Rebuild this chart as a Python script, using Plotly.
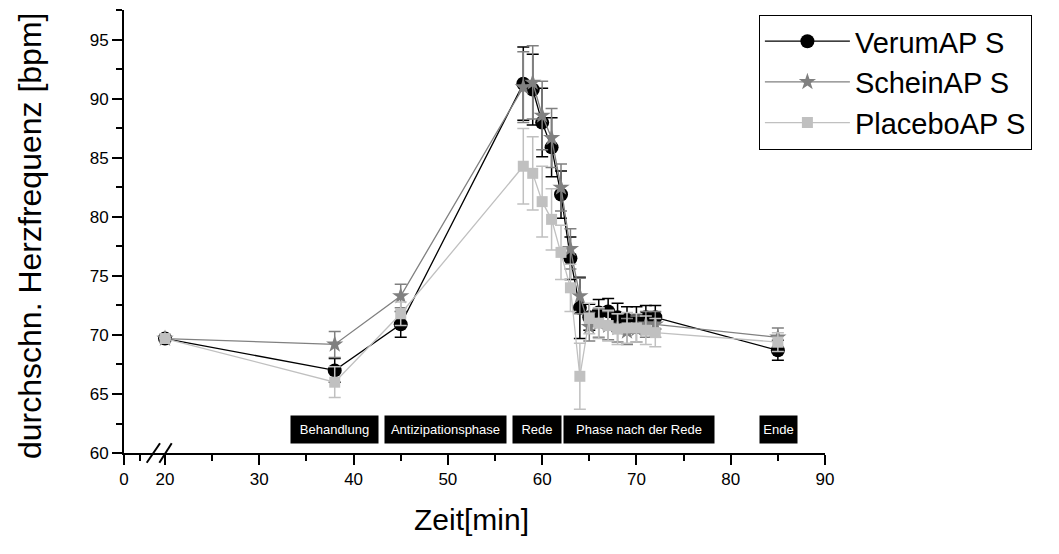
import plotly.graph_objects as go

# ---- data ----
zeit = [20, 38, 45, 58, 59, 60, 61, 62, 63, 64, 65, 66, 67, 68, 69, 70, 71, 72, 85]
verum = [69.7, 67.0, 70.9, 91.3, 90.8, 88.0, 85.9, 81.9, 76.5, 72.3, 71.5, 71.9, 72.0, 71.5, 71.3, 71.3, 71.5, 71.5, 68.7]
verum_err = [None, 1.0, 1.1, 3.1, 3.0, 2.9, 2.5, 2.0, 1.8, 2.6, 1.1, 1.1, 1.1, 1.2, 1.1, 1.1, 1.0, 1.0, 0.85]
schein = [69.7, 69.2, 73.3, 91.0, 91.4, 88.6, 86.7, 82.5, 77.3, 73.3, 70.7, 71.0, 70.8, 70.6, 70.3, 70.5, 70.9, 70.9, 69.8]
schein_err = [None, 1.1, 1.0, 3.0, 3.1, 2.9, 2.5, 2.0, 1.7, 1.5, 1.2, 1.2, 1.2, 1.2, 1.1, 1.1, 1.1, 1.1, 0.8]
placebo = [69.7, 66.0, 71.8, 84.3, 83.7, 81.3, 79.8, 77.0, 74.0, 66.5, 71.4, 71.0, 70.8, 70.5, 70.6, 70.6, 70.4, 70.2, 69.4]
placebo_err = [None, 1.3, 1.0, 3.2, 3.1, 3.0, 2.6, 2.3, 2.0, 2.8, 1.3, 1.3, 1.3, 1.3, 1.3, 1.2, 1.2, 1.2, 0.8]

series_names = ["VerumAP S", "ScheinAP S", "PlaceboAP S"]

phase_labels = ["Behandlung", "Antizipationsphase", "Rede", "Phase nach der Rede", "Ende"]
phase_centers = [38.0, 49.75, 59.45, 70.3, 85.05]
phase_widths = [87, 121, 48, 150, 37]

x_tickvals = [15.65, 20, 30, 40, 50, 60, 70, 80, 90]
x_ticktext = ["0", "20", "30", "40", "50", "60", "70", "80", "90"]
x_minor = [17.3, 25, 35, 45, 55, 65, 75, 85]
y_tickvals = [60, 65, 70, 75, 80, 85, 90, 95]
y_minor = [62.5, 67.5, 72.5, 77.5, 82.5, 87.5, 92.5, 97.5]

FONT = "Arial, Liberation Sans, sans-serif"

fig = go.Figure()

styles = [
    dict(color="#000000", symbol="circle", size=14),
    dict(color="#808080", symbol="star", size=13),
    dict(color="#c0c0c0", symbol="square", size=11),
]
ys = [verum, schein, placebo]
errs = [verum_err, schein_err, placebo_err]

for name, y, e, st in zip(series_names, ys, errs, styles):
    fig.add_trace(go.Scatter(
        x=zeit, y=y, name=name, mode="lines+markers",
        line=dict(color=st["color"], width=1.3),
        marker=dict(color=st["color"], symbol=st["symbol"], size=st["size"],
                    line=dict(width=0)),
        error_y=dict(type="data", array=e, visible=True, color=st["color"],
                     thickness=1.5, width=6),
    ))

for lab, cx, w in zip(phase_labels, phase_centers, phase_widths):
    fig.add_annotation(x=cx, y=62.0, xref="x", yref="y", text=lab,
                       showarrow=False, bgcolor="black", borderpad=0,
                       width=w, height=27,
                       font=dict(family=FONT, size=13, color="white"))

# axis break marks
for x0, x1 in [(18.06, 19.47), (19.4, 20.71)]:
    fig.add_shape(type="line", xref="x", yref="paper", x0=x0, x1=x1,
                  y0=-0.022, y1=0.022, line=dict(color="black", width=2))

fig.add_annotation(x=-0.134, y=0.49, xref="paper", yref="paper",
                   xanchor="center", yanchor="middle",
                   text="durchschn. Herzfrequenz [bpm]", textangle=-90,
                   showarrow=False, font=dict(family=FONT, size=32, color="black"))
fig.add_annotation(x=0.496, y=-0.151, xref="paper", yref="paper",
                   xanchor="center", yanchor="middle",
                   text="Zeit[min]", showarrow=False,
                   font=dict(family=FONT, size=30, color="black"))

fig.update_xaxes(
    range=[15.65, 90], tickmode="array", tickvals=x_tickvals, ticktext=x_ticktext,
    showgrid=False, zeroline=False, showline=True, linecolor="black", linewidth=2,
    ticks="outside", ticklen=10, tickwidth=2, tickcolor="black",
    tickfont=dict(family=FONT, size=17, color="black"),
    minor=dict(tickmode="array", tickvals=x_minor, ticks="outside", ticklen=6,
               tickwidth=2, tickcolor="black", showgrid=False),
)
fig.update_yaxes(
    range=[60, 97.54], tickmode="array", tickvals=y_tickvals,
    showgrid=False, zeroline=False, showline=True, linecolor="black", linewidth=2,
    ticks="outside", ticklen=10, tickwidth=2, tickcolor="black",
    tickfont=dict(family=FONT, size=17, color="black"),
    minor=dict(tickmode="array", tickvals=y_minor, ticks="outside", ticklen=6,
               tickwidth=2, tickcolor="black", showgrid=False),
)

# page body has an 8px margin, so the figure is shifted by 8px
fig.update_layout(
    width=1043, height=538,
    margin=dict(l=116, r=226, t=2, b=93),
    plot_bgcolor="white", paper_bgcolor="white",
    showlegend=True,
    legend=dict(x=0.9057, y=0.989, xanchor="left", yanchor="top",
                bordercolor="black", borderwidth=1, bgcolor="white",
                font=dict(family=FONT, size=29, color="black"),
                itemwidth=85),
    font=dict(family=FONT, color="black"),
)

fig.write_html("out.html")
